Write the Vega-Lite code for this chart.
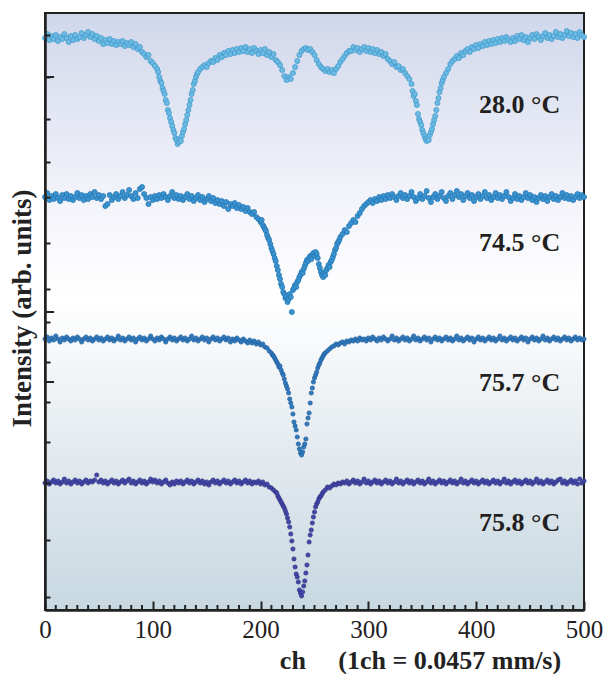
{
"$schema":"https://vega.github.io/schema/vega-lite/v6.json",
"width":539,"height":597,
"autosize":{"type":"none"},
"padding":{"left":45,"top":13,"right":26,"bottom":64},
"background":"white",
"config":{"view":{"stroke":null}},
"datasets":{
"a":[{"x":0,"y":572},{"x":2,"y":576},{"x":4,"y":570},{"x":6,"y":574},{"x":8,"y":571},{"x":10,"y":575},{"x":12,"y":569},{"x":14,"y":573},{"x":16,"y":571},{"x":18,"y":576},{"x":20,"y":572},{"x":22,"y":568},{"x":24,"y":574},{"x":26,"y":570},{"x":28,"y":575},{"x":30,"y":571},{"x":32,"y":573},{"x":34,"y":577},{"x":36,"y":572},{"x":38,"y":575},{"x":40,"y":578},{"x":42,"y":573},{"x":44,"y":576},{"x":46,"y":571},{"x":48,"y":574},{"x":50,"y":569},{"x":52,"y":572},{"x":54,"y":566},{"x":56,"y":570},{"x":58,"y":567},{"x":60,"y":571},{"x":62,"y":566},{"x":64,"y":569},{"x":66,"y":565},{"x":68,"y":568},{"x":70,"y":566},{"x":72,"y":569},{"x":74,"y":564},{"x":76,"y":567},{"x":78,"y":565},{"x":80,"y":568},{"x":82,"y":563},{"x":84,"y":566},{"x":86,"y":561},{"x":88,"y":563},{"x":90,"y":558},{"x":92,"y":556},{"x":94,"y":553},{"x":96,"y":555},{"x":98,"y":549},{"x":100,"y":547},{"x":102,"y":544},{"x":104,"y":541},{"x":105,"y":538},{"x":106,"y":533},{"x":107,"y":529},{"x":108,"y":527},{"x":109,"y":522},{"x":110,"y":519},{"x":111,"y":516},{"x":112,"y":510},{"x":113,"y":507},{"x":114,"y":500},{"x":115,"y":497},{"x":116,"y":492},{"x":117,"y":488},{"x":118,"y":484},{"x":119,"y":480},{"x":120,"y":477},{"x":121,"y":472},{"x":122,"y":470},{"x":123,"y":466},{"x":124,"y":468},{"x":125,"y":471},{"x":126,"y":469},{"x":127,"y":474},{"x":128,"y":478},{"x":129,"y":481},{"x":130,"y":486},{"x":131,"y":490},{"x":132,"y":495},{"x":133,"y":500},{"x":134,"y":505},{"x":135,"y":510},{"x":136,"y":516},{"x":137,"y":520},{"x":138,"y":526},{"x":139,"y":529},{"x":140,"y":533},{"x":141,"y":536},{"x":142,"y":538},{"x":144,"y":541},{"x":146,"y":543},{"x":148,"y":545},{"x":150,"y":543},{"x":152,"y":547},{"x":154,"y":549},{"x":156,"y":548},{"x":158,"y":552},{"x":160,"y":550},{"x":162,"y":555},{"x":164,"y":553},{"x":166,"y":557},{"x":168,"y":555},{"x":170,"y":559},{"x":172,"y":556},{"x":174,"y":560},{"x":176,"y":557},{"x":178,"y":561},{"x":180,"y":558},{"x":182,"y":562},{"x":184,"y":559},{"x":186,"y":563},{"x":188,"y":558},{"x":190,"y":561},{"x":192,"y":557},{"x":194,"y":562},{"x":196,"y":559},{"x":198,"y":556},{"x":200,"y":560},{"x":202,"y":557},{"x":204,"y":561},{"x":206,"y":555},{"x":208,"y":558},{"x":210,"y":553},{"x":212,"y":556},{"x":214,"y":550},{"x":216,"y":548},{"x":218,"y":545},{"x":220,"y":540},{"x":222,"y":534},{"x":224,"y":530},{"x":226,"y":533},{"x":228,"y":531},{"x":230,"y":537},{"x":232,"y":543},{"x":234,"y":549},{"x":236,"y":555},{"x":238,"y":559},{"x":240,"y":561},{"x":242,"y":562},{"x":244,"y":560},{"x":246,"y":561},{"x":248,"y":558},{"x":250,"y":555},{"x":252,"y":550},{"x":254,"y":546},{"x":256,"y":543},{"x":258,"y":541},{"x":260,"y":539},{"x":262,"y":541},{"x":264,"y":538},{"x":266,"y":540},{"x":268,"y":537},{"x":270,"y":541},{"x":272,"y":544},{"x":274,"y":548},{"x":276,"y":551},{"x":278,"y":554},{"x":280,"y":557},{"x":282,"y":559},{"x":284,"y":559},{"x":286,"y":563},{"x":288,"y":560},{"x":290,"y":562},{"x":292,"y":558},{"x":294,"y":561},{"x":296,"y":563},{"x":298,"y":559},{"x":300,"y":562},{"x":302,"y":558},{"x":304,"y":561},{"x":306,"y":557},{"x":308,"y":560},{"x":310,"y":556},{"x":312,"y":558},{"x":314,"y":554},{"x":316,"y":556},{"x":318,"y":551},{"x":320,"y":549},{"x":322,"y":546},{"x":324,"y":548},{"x":326,"y":543},{"x":328,"y":544},{"x":330,"y":540},{"x":332,"y":541},{"x":334,"y":537},{"x":336,"y":534},{"x":338,"y":531},{"x":340,"y":526},{"x":341,"y":519},{"x":342,"y":514},{"x":343,"y":516},{"x":344,"y":509},{"x":345,"y":505},{"x":346,"y":496},{"x":347,"y":491},{"x":348,"y":488},{"x":349,"y":485},{"x":350,"y":480},{"x":351,"y":477},{"x":352,"y":474},{"x":353,"y":471},{"x":354,"y":469},{"x":355,"y":472},{"x":356,"y":470},{"x":357,"y":475},{"x":358,"y":478},{"x":359,"y":481},{"x":360,"y":486},{"x":361,"y":490},{"x":362,"y":494},{"x":363,"y":500},{"x":364,"y":507},{"x":365,"y":512},{"x":366,"y":518},{"x":367,"y":522},{"x":368,"y":527},{"x":369,"y":530},{"x":370,"y":533},{"x":372,"y":537},{"x":374,"y":541},{"x":376,"y":546},{"x":378,"y":549},{"x":380,"y":551},{"x":382,"y":554},{"x":384,"y":552},{"x":386,"y":557},{"x":388,"y":555},{"x":390,"y":559},{"x":392,"y":561},{"x":394,"y":558},{"x":396,"y":563},{"x":398,"y":561},{"x":400,"y":565},{"x":402,"y":562},{"x":404,"y":566},{"x":406,"y":564},{"x":408,"y":568},{"x":410,"y":565},{"x":412,"y":569},{"x":414,"y":566},{"x":416,"y":570},{"x":418,"y":567},{"x":420,"y":571},{"x":422,"y":568},{"x":424,"y":572},{"x":426,"y":569},{"x":428,"y":573},{"x":430,"y":570},{"x":432,"y":568},{"x":434,"y":572},{"x":436,"y":569},{"x":438,"y":574},{"x":440,"y":571},{"x":442,"y":575},{"x":444,"y":570},{"x":446,"y":573},{"x":448,"y":568},{"x":450,"y":572},{"x":452,"y":575},{"x":454,"y":571},{"x":456,"y":576},{"x":458,"y":573},{"x":460,"y":570},{"x":462,"y":574},{"x":464,"y":577},{"x":466,"y":572},{"x":468,"y":575},{"x":470,"y":571},{"x":472,"y":574},{"x":474,"y":578},{"x":476,"y":573},{"x":478,"y":576},{"x":480,"y":572},{"x":482,"y":575},{"x":484,"y":579},{"x":486,"y":574},{"x":488,"y":577},{"x":490,"y":573},{"x":492,"y":576},{"x":494,"y":572},{"x":496,"y":578},{"x":498,"y":575},{"x":500,"y":573}],
"b":[{"x":0,"y":413},{"x":2,"y":417},{"x":4,"y":410},{"x":6,"y":414},{"x":8,"y":411},{"x":10,"y":416},{"x":12,"y":412},{"x":14,"y":409},{"x":16,"y":415},{"x":18,"y":412},{"x":20,"y":416},{"x":22,"y":411},{"x":24,"y":414},{"x":26,"y":410},{"x":28,"y":413},{"x":30,"y":417},{"x":32,"y":412},{"x":34,"y":415},{"x":36,"y":410},{"x":38,"y":414},{"x":40,"y":411},{"x":42,"y":416},{"x":44,"y":413},{"x":46,"y":418},{"x":48,"y":412},{"x":50,"y":415},{"x":52,"y":411},{"x":54,"y":414},{"x":56,"y":404},{"x":58,"y":406},{"x":60,"y":415},{"x":62,"y":410},{"x":64,"y":413},{"x":66,"y":416},{"x":68,"y":411},{"x":70,"y":414},{"x":72,"y":418},{"x":74,"y":412},{"x":76,"y":415},{"x":78,"y":420},{"x":80,"y":414},{"x":82,"y":411},{"x":84,"y":417},{"x":86,"y":412},{"x":88,"y":421},{"x":90,"y":423},{"x":92,"y":416},{"x":94,"y":412},{"x":96,"y":406},{"x":98,"y":413},{"x":100,"y":410},{"x":102,"y":414},{"x":104,"y":411},{"x":106,"y":415},{"x":108,"y":412},{"x":110,"y":416},{"x":112,"y":413},{"x":114,"y":410},{"x":116,"y":414},{"x":118,"y":418},{"x":120,"y":412},{"x":122,"y":415},{"x":124,"y":411},{"x":126,"y":414},{"x":128,"y":410},{"x":130,"y":413},{"x":132,"y":416},{"x":134,"y":411},{"x":136,"y":414},{"x":138,"y":409},{"x":140,"y":412},{"x":142,"y":415},{"x":144,"y":410},{"x":146,"y":413},{"x":148,"y":408},{"x":150,"y":411},{"x":152,"y":414},{"x":154,"y":409},{"x":156,"y":412},{"x":158,"y":407},{"x":160,"y":410},{"x":162,"y":406},{"x":164,"y":409},{"x":166,"y":404},{"x":168,"y":408},{"x":170,"y":401},{"x":172,"y":406},{"x":174,"y":404},{"x":176,"y":407},{"x":178,"y":402},{"x":180,"y":405},{"x":182,"y":401},{"x":184,"y":403},{"x":186,"y":399},{"x":188,"y":402},{"x":190,"y":398},{"x":192,"y":396},{"x":194,"y":398},{"x":196,"y":393},{"x":198,"y":391},{"x":200,"y":388},{"x":201,"y":390},{"x":202,"y":385},{"x":203,"y":383},{"x":204,"y":381},{"x":205,"y":379},{"x":206,"y":375},{"x":207,"y":372},{"x":208,"y":370},{"x":209,"y":366},{"x":210,"y":362},{"x":211,"y":359},{"x":212,"y":356},{"x":213,"y":352},{"x":214,"y":349},{"x":215,"y":344},{"x":216,"y":340},{"x":217,"y":335},{"x":218,"y":331},{"x":219,"y":326},{"x":220,"y":323},{"x":221,"y":318},{"x":222,"y":316},{"x":223,"y":312},{"x":224,"y":314},{"x":225,"y":308},{"x":226,"y":311},{"x":227,"y":316},{"x":228,"y":313},{"x":229,"y":298},{"x":230,"y":320},{"x":231,"y":322},{"x":232,"y":325},{"x":233,"y":323},{"x":234,"y":328},{"x":235,"y":330},{"x":236,"y":333},{"x":237,"y":335},{"x":238,"y":338},{"x":239,"y":337},{"x":240,"y":341},{"x":241,"y":344},{"x":242,"y":347},{"x":243,"y":350},{"x":244,"y":349},{"x":245,"y":352},{"x":246,"y":354},{"x":247,"y":351},{"x":248,"y":355},{"x":249,"y":357},{"x":250,"y":354},{"x":251,"y":358},{"x":252,"y":356},{"x":253,"y":352},{"x":254,"y":346},{"x":255,"y":342},{"x":256,"y":338},{"x":257,"y":335},{"x":258,"y":333},{"x":259,"y":337},{"x":260,"y":335},{"x":261,"y":340},{"x":262,"y":342},{"x":263,"y":345},{"x":264,"y":343},{"x":265,"y":348},{"x":266,"y":350},{"x":267,"y":353},{"x":268,"y":356},{"x":269,"y":360},{"x":270,"y":362},{"x":271,"y":366},{"x":272,"y":368},{"x":273,"y":370},{"x":274,"y":373},{"x":276,"y":376},{"x":278,"y":380},{"x":280,"y":378},{"x":282,"y":384},{"x":284,"y":387},{"x":286,"y":390},{"x":288,"y":388},{"x":290,"y":394},{"x":292,"y":397},{"x":294,"y":401},{"x":296,"y":404},{"x":298,"y":406},{"x":300,"y":408},{"x":302,"y":410},{"x":304,"y":407},{"x":306,"y":411},{"x":308,"y":409},{"x":310,"y":413},{"x":312,"y":410},{"x":314,"y":414},{"x":316,"y":411},{"x":318,"y":415},{"x":320,"y":412},{"x":322,"y":416},{"x":324,"y":413},{"x":326,"y":410},{"x":328,"y":414},{"x":330,"y":417},{"x":332,"y":412},{"x":334,"y":415},{"x":336,"y":411},{"x":338,"y":414},{"x":340,"y":418},{"x":342,"y":413},{"x":344,"y":409},{"x":346,"y":412},{"x":348,"y":416},{"x":350,"y":411},{"x":352,"y":414},{"x":354,"y":419},{"x":356,"y":412},{"x":358,"y":408},{"x":360,"y":413},{"x":362,"y":416},{"x":364,"y":411},{"x":366,"y":414},{"x":368,"y":418},{"x":370,"y":412},{"x":372,"y":409},{"x":374,"y":414},{"x":376,"y":417},{"x":378,"y":411},{"x":380,"y":415},{"x":382,"y":419},{"x":384,"y":413},{"x":386,"y":416},{"x":388,"y":410},{"x":390,"y":414},{"x":392,"y":417},{"x":394,"y":412},{"x":396,"y":415},{"x":398,"y":409},{"x":400,"y":413},{"x":402,"y":416},{"x":404,"y":411},{"x":406,"y":414},{"x":408,"y":418},{"x":410,"y":412},{"x":412,"y":415},{"x":414,"y":410},{"x":416,"y":413},{"x":418,"y":417},{"x":420,"y":412},{"x":422,"y":415},{"x":424,"y":411},{"x":426,"y":414},{"x":428,"y":418},{"x":430,"y":413},{"x":432,"y":409},{"x":434,"y":412},{"x":436,"y":416},{"x":438,"y":411},{"x":440,"y":414},{"x":442,"y":410},{"x":444,"y":413},{"x":446,"y":417},{"x":448,"y":412},{"x":450,"y":415},{"x":452,"y":410},{"x":454,"y":413},{"x":456,"y":408},{"x":458,"y":412},{"x":460,"y":415},{"x":462,"y":411},{"x":464,"y":414},{"x":466,"y":409},{"x":468,"y":413},{"x":470,"y":416},{"x":472,"y":411},{"x":474,"y":414},{"x":476,"y":410},{"x":478,"y":413},{"x":480,"y":417},{"x":482,"y":412},{"x":484,"y":415},{"x":486,"y":411},{"x":488,"y":414},{"x":490,"y":410},{"x":492,"y":413},{"x":494,"y":416},{"x":496,"y":412},{"x":498,"y":415},{"x":500,"y":413}],
"c":[{"x":0,"y":271},{"x":2,"y":273},{"x":4,"y":269},{"x":6,"y":272},{"x":8,"y":270},{"x":10,"y":274},{"x":12,"y":271},{"x":14,"y":268},{"x":16,"y":272},{"x":18,"y":270},{"x":20,"y":273},{"x":22,"y":271},{"x":24,"y":269},{"x":26,"y":272},{"x":28,"y":270},{"x":30,"y":273},{"x":32,"y":271},{"x":34,"y":268},{"x":36,"y":271},{"x":38,"y":273},{"x":40,"y":270},{"x":42,"y":272},{"x":44,"y":269},{"x":46,"y":271},{"x":48,"y":273},{"x":50,"y":270},{"x":52,"y":272},{"x":54,"y":269},{"x":56,"y":271},{"x":58,"y":273},{"x":60,"y":270},{"x":62,"y":272},{"x":64,"y":269},{"x":66,"y":271},{"x":68,"y":274},{"x":70,"y":270},{"x":72,"y":272},{"x":74,"y":269},{"x":76,"y":271},{"x":78,"y":273},{"x":80,"y":270},{"x":82,"y":272},{"x":84,"y":268},{"x":86,"y":271},{"x":88,"y":273},{"x":90,"y":270},{"x":92,"y":272},{"x":94,"y":269},{"x":96,"y":271},{"x":98,"y":274},{"x":100,"y":271},{"x":102,"y":269},{"x":104,"y":272},{"x":106,"y":270},{"x":108,"y":273},{"x":110,"y":271},{"x":112,"y":268},{"x":114,"y":271},{"x":116,"y":273},{"x":118,"y":270},{"x":120,"y":272},{"x":122,"y":269},{"x":124,"y":271},{"x":126,"y":273},{"x":128,"y":270},{"x":130,"y":272},{"x":132,"y":269},{"x":134,"y":271},{"x":136,"y":274},{"x":138,"y":270},{"x":140,"y":272},{"x":142,"y":269},{"x":144,"y":271},{"x":146,"y":273},{"x":148,"y":270},{"x":150,"y":272},{"x":152,"y":268},{"x":154,"y":271},{"x":156,"y":273},{"x":158,"y":270},{"x":160,"y":272},{"x":162,"y":269},{"x":164,"y":271},{"x":166,"y":273},{"x":168,"y":270},{"x":170,"y":272},{"x":172,"y":268},{"x":174,"y":271},{"x":176,"y":269},{"x":178,"y":272},{"x":180,"y":270},{"x":182,"y":268},{"x":184,"y":271},{"x":186,"y":269},{"x":188,"y":267},{"x":190,"y":270},{"x":192,"y":267},{"x":194,"y":269},{"x":196,"y":266},{"x":198,"y":268},{"x":200,"y":265},{"x":202,"y":266},{"x":204,"y":263},{"x":206,"y":262},{"x":208,"y":259},{"x":210,"y":257},{"x":211,"y":255},{"x":212,"y":254},{"x":213,"y":252},{"x":214,"y":250},{"x":215,"y":248},{"x":216,"y":246},{"x":217,"y":243},{"x":218,"y":244},{"x":219,"y":240},{"x":220,"y":237},{"x":221,"y":235},{"x":222,"y":231},{"x":223,"y":227},{"x":224,"y":224},{"x":225,"y":221},{"x":226,"y":217},{"x":227,"y":211},{"x":228,"y":207},{"x":229,"y":203},{"x":230,"y":196},{"x":231,"y":188},{"x":232,"y":184},{"x":233,"y":180},{"x":234,"y":173},{"x":235,"y":166},{"x":236,"y":161},{"x":237,"y":157},{"x":238,"y":155},{"x":239,"y":158},{"x":240,"y":163},{"x":241,"y":166},{"x":242,"y":171},{"x":243,"y":186},{"x":244,"y":192},{"x":245,"y":197},{"x":246,"y":207},{"x":247,"y":217},{"x":248,"y":222},{"x":249,"y":228},{"x":250,"y":232},{"x":251,"y":235},{"x":252,"y":238},{"x":253,"y":242},{"x":254,"y":245},{"x":255,"y":247},{"x":256,"y":250},{"x":257,"y":252},{"x":258,"y":254},{"x":259,"y":256},{"x":260,"y":257},{"x":262,"y":259},{"x":264,"y":261},{"x":266,"y":263},{"x":268,"y":264},{"x":270,"y":266},{"x":272,"y":265},{"x":274,"y":267},{"x":276,"y":268},{"x":278,"y":266},{"x":280,"y":269},{"x":282,"y":268},{"x":284,"y":270},{"x":286,"y":269},{"x":288,"y":271},{"x":290,"y":269},{"x":292,"y":272},{"x":294,"y":270},{"x":296,"y":271},{"x":298,"y":269},{"x":300,"y":272},{"x":302,"y":270},{"x":304,"y":273},{"x":306,"y":271},{"x":308,"y":269},{"x":310,"y":272},{"x":312,"y":270},{"x":314,"y":273},{"x":316,"y":271},{"x":318,"y":269},{"x":320,"y":271},{"x":322,"y":274},{"x":324,"y":270},{"x":326,"y":272},{"x":328,"y":269},{"x":330,"y":271},{"x":332,"y":273},{"x":334,"y":270},{"x":336,"y":272},{"x":338,"y":269},{"x":340,"y":271},{"x":342,"y":274},{"x":344,"y":270},{"x":346,"y":272},{"x":348,"y":269},{"x":350,"y":271},{"x":352,"y":273},{"x":354,"y":270},{"x":356,"y":272},{"x":358,"y":268},{"x":360,"y":271},{"x":362,"y":273},{"x":364,"y":270},{"x":366,"y":272},{"x":368,"y":269},{"x":370,"y":271},{"x":372,"y":273},{"x":374,"y":270},{"x":376,"y":272},{"x":378,"y":269},{"x":380,"y":271},{"x":382,"y":274},{"x":384,"y":270},{"x":386,"y":272},{"x":388,"y":269},{"x":390,"y":271},{"x":392,"y":273},{"x":394,"y":270},{"x":396,"y":272},{"x":398,"y":268},{"x":400,"y":271},{"x":402,"y":273},{"x":404,"y":270},{"x":406,"y":272},{"x":408,"y":269},{"x":410,"y":271},{"x":412,"y":273},{"x":414,"y":270},{"x":416,"y":272},{"x":418,"y":269},{"x":420,"y":271},{"x":422,"y":274},{"x":424,"y":270},{"x":426,"y":272},{"x":428,"y":269},{"x":430,"y":271},{"x":432,"y":273},{"x":434,"y":270},{"x":436,"y":272},{"x":438,"y":269},{"x":440,"y":271},{"x":442,"y":273},{"x":444,"y":270},{"x":446,"y":272},{"x":448,"y":268},{"x":450,"y":271},{"x":452,"y":273},{"x":454,"y":270},{"x":456,"y":272},{"x":458,"y":269},{"x":460,"y":271},{"x":462,"y":274},{"x":464,"y":270},{"x":466,"y":272},{"x":468,"y":269},{"x":470,"y":271},{"x":472,"y":273},{"x":474,"y":270},{"x":476,"y":272},{"x":478,"y":269},{"x":480,"y":271},{"x":482,"y":273},{"x":484,"y":270},{"x":486,"y":272},{"x":488,"y":269},{"x":490,"y":271},{"x":492,"y":273},{"x":494,"y":270},{"x":496,"y":272},{"x":498,"y":270},{"x":500,"y":271}],
"d":[{"x":0,"y":127},{"x":2,"y":129},{"x":4,"y":126},{"x":6,"y":128},{"x":8,"y":130},{"x":10,"y":127},{"x":12,"y":129},{"x":14,"y":126},{"x":16,"y":128},{"x":18,"y":131},{"x":20,"y":127},{"x":22,"y":129},{"x":24,"y":126},{"x":26,"y":128},{"x":28,"y":130},{"x":30,"y":127},{"x":32,"y":129},{"x":34,"y":126},{"x":36,"y":128},{"x":38,"y":130},{"x":40,"y":127},{"x":42,"y":129},{"x":44,"y":128},{"x":46,"y":130},{"x":48,"y":135},{"x":50,"y":128},{"x":52,"y":130},{"x":54,"y":127},{"x":56,"y":129},{"x":58,"y":126},{"x":60,"y":128},{"x":62,"y":130},{"x":64,"y":127},{"x":66,"y":129},{"x":68,"y":126},{"x":70,"y":128},{"x":72,"y":130},{"x":74,"y":127},{"x":76,"y":129},{"x":78,"y":131},{"x":80,"y":127},{"x":82,"y":129},{"x":84,"y":126},{"x":86,"y":128},{"x":88,"y":130},{"x":90,"y":127},{"x":92,"y":129},{"x":94,"y":126},{"x":96,"y":128},{"x":98,"y":131},{"x":100,"y":128},{"x":102,"y":130},{"x":104,"y":127},{"x":106,"y":129},{"x":108,"y":126},{"x":110,"y":128},{"x":112,"y":130},{"x":114,"y":127},{"x":116,"y":125},{"x":118,"y":128},{"x":120,"y":126},{"x":122,"y":129},{"x":124,"y":127},{"x":126,"y":129},{"x":128,"y":126},{"x":130,"y":128},{"x":132,"y":130},{"x":134,"y":127},{"x":136,"y":129},{"x":138,"y":126},{"x":140,"y":128},{"x":142,"y":130},{"x":144,"y":127},{"x":146,"y":129},{"x":148,"y":126},{"x":150,"y":128},{"x":152,"y":125},{"x":154,"y":128},{"x":156,"y":130},{"x":158,"y":127},{"x":160,"y":129},{"x":162,"y":126},{"x":164,"y":128},{"x":166,"y":130},{"x":168,"y":127},{"x":170,"y":129},{"x":172,"y":126},{"x":174,"y":128},{"x":176,"y":130},{"x":178,"y":127},{"x":180,"y":129},{"x":182,"y":126},{"x":184,"y":128},{"x":186,"y":130},{"x":188,"y":127},{"x":190,"y":129},{"x":192,"y":126},{"x":194,"y":128},{"x":196,"y":127},{"x":198,"y":129},{"x":200,"y":126},{"x":202,"y":128},{"x":204,"y":125},{"x":206,"y":126},{"x":208,"y":123},{"x":210,"y":122},{"x":212,"y":120},{"x":214,"y":118},{"x":215,"y":117},{"x":216,"y":114},{"x":217,"y":112},{"x":218,"y":110},{"x":219,"y":108},{"x":220,"y":106},{"x":221,"y":104},{"x":222,"y":102},{"x":223,"y":99},{"x":224,"y":96},{"x":225,"y":92},{"x":226,"y":88},{"x":227,"y":83},{"x":228,"y":76},{"x":229,"y":69},{"x":230,"y":61},{"x":231,"y":51},{"x":232,"y":43},{"x":233,"y":36},{"x":234,"y":33},{"x":235,"y":28},{"x":236,"y":20},{"x":237,"y":17},{"x":238,"y":14},{"x":239,"y":18},{"x":240,"y":24},{"x":241,"y":29},{"x":242,"y":37},{"x":243,"y":45},{"x":244,"y":55},{"x":245,"y":68},{"x":246,"y":75},{"x":247,"y":80},{"x":248,"y":87},{"x":249,"y":93},{"x":250,"y":98},{"x":251,"y":103},{"x":252,"y":106},{"x":253,"y":108},{"x":254,"y":111},{"x":255,"y":113},{"x":256,"y":114},{"x":257,"y":116},{"x":258,"y":118},{"x":260,"y":120},{"x":262,"y":123},{"x":264,"y":122},{"x":266,"y":124},{"x":268,"y":126},{"x":270,"y":125},{"x":272,"y":127},{"x":274,"y":126},{"x":276,"y":128},{"x":278,"y":127},{"x":280,"y":129},{"x":282,"y":126},{"x":284,"y":128},{"x":286,"y":130},{"x":288,"y":127},{"x":290,"y":129},{"x":292,"y":126},{"x":294,"y":128},{"x":296,"y":131},{"x":298,"y":127},{"x":300,"y":129},{"x":302,"y":126},{"x":304,"y":128},{"x":306,"y":130},{"x":308,"y":127},{"x":310,"y":129},{"x":312,"y":126},{"x":314,"y":128},{"x":316,"y":130},{"x":318,"y":127},{"x":320,"y":129},{"x":322,"y":126},{"x":324,"y":128},{"x":326,"y":131},{"x":328,"y":127},{"x":330,"y":129},{"x":332,"y":126},{"x":334,"y":128},{"x":336,"y":130},{"x":338,"y":127},{"x":340,"y":129},{"x":342,"y":126},{"x":344,"y":128},{"x":346,"y":130},{"x":348,"y":127},{"x":350,"y":129},{"x":352,"y":126},{"x":354,"y":128},{"x":356,"y":131},{"x":358,"y":127},{"x":360,"y":129},{"x":362,"y":126},{"x":364,"y":128},{"x":366,"y":130},{"x":368,"y":127},{"x":370,"y":129},{"x":372,"y":126},{"x":374,"y":128},{"x":376,"y":130},{"x":378,"y":127},{"x":380,"y":129},{"x":382,"y":126},{"x":384,"y":128},{"x":386,"y":131},{"x":388,"y":127},{"x":390,"y":129},{"x":392,"y":126},{"x":394,"y":128},{"x":396,"y":130},{"x":398,"y":127},{"x":400,"y":129},{"x":402,"y":126},{"x":404,"y":128},{"x":406,"y":130},{"x":408,"y":127},{"x":410,"y":129},{"x":412,"y":126},{"x":414,"y":128},{"x":416,"y":130},{"x":418,"y":127},{"x":420,"y":129},{"x":422,"y":126},{"x":424,"y":128},{"x":426,"y":131},{"x":428,"y":127},{"x":430,"y":129},{"x":432,"y":126},{"x":434,"y":128},{"x":436,"y":130},{"x":438,"y":127},{"x":440,"y":129},{"x":442,"y":126},{"x":444,"y":128},{"x":446,"y":130},{"x":448,"y":127},{"x":450,"y":129},{"x":452,"y":126},{"x":454,"y":128},{"x":456,"y":131},{"x":458,"y":127},{"x":460,"y":129},{"x":462,"y":126},{"x":464,"y":128},{"x":466,"y":130},{"x":468,"y":127},{"x":470,"y":129},{"x":472,"y":126},{"x":474,"y":128},{"x":476,"y":130},{"x":478,"y":131},{"x":480,"y":127},{"x":482,"y":129},{"x":484,"y":126},{"x":486,"y":128},{"x":488,"y":130},{"x":490,"y":127},{"x":492,"y":129},{"x":494,"y":126},{"x":496,"y":131},{"x":498,"y":127},{"x":500,"y":129}],
"labels":[{"x":478,"y":505,"label":"28.0 °C"},{"x":478,"y":367,"label":"74.5 °C"},{"x":478,"y":227,"label":"75.7 °C"},{"x":478,"y":87,"label":"75.8 °C"}],
"xminor":[{"t":10},{"t":20},{"t":30},{"t":40},{"t":50},{"t":60},{"t":70},{"t":80},{"t":90},{"t":110},{"t":120},{"t":130},{"t":140},{"t":150},{"t":160},{"t":170},{"t":180},{"t":190},{"t":210},{"t":220},{"t":230},{"t":240},{"t":250},{"t":260},{"t":270},{"t":280},{"t":290},{"t":310},{"t":320},{"t":330},{"t":340},{"t":350},{"t":360},{"t":370},{"t":380},{"t":390},{"t":410},{"t":420},{"t":430},{"t":440},{"t":450},{"t":460},{"t":470},{"t":480},{"t":490}],
"ymajor":[{"t":533},{"t":298},{"t":228}]
},
"layer":[
{"data":{"values":[{}]},
 "mark":{"type":"rect","stroke":"#222222","strokeWidth":2,
  "fill":{"gradient":"linear","x1":0,"y1":0,"x2":0,"y2":1,"stops":[{"offset":0,"color":"#d0d7eb"},{"offset":0.3,"color":"#f2f3fa"},{"offset":0.48,"color":"#ffffff"},{"offset":0.75,"color":"#e2e9ee"},{"offset":1,"color":"#c7d8e1"}]}},
 "encoding":{"x":{"datum":0,"type":"quantitative","scale":{"domain":[0,500],"nice":false,"zero":false}},"x2":{"datum":500},"y":{"datum":0,"type":"quantitative","scale":{"domain":[0,597],"nice":false,"zero":false}},"y2":{"datum":597}}},
{"data":{"name":"a"},"mark":{"type":"circle","size":26,"fill":"#6bbbe3","stroke":"#3d95c8","strokeWidth":0.7,"opacity":1},
 "encoding":{
 "x":{"field":"x","type":"quantitative","scale":{"domain":[0,500],"nice":false,"zero":false},
 "axis":{"values":[0,100,200,300,400,500],"labelFlush":false,"labelOverlap":false,
 "tickSize":-9,"tickWidth":2,"tickColor":"#222222","domainColor":"#222222","domainWidth":2.5,"grid":false,"zindex":1,
 "labelFont":"Liberation Serif","labelFontSize":25,"labelColor":"#222222","labelPadding":16,
 "title":"ch\u00a0\u00a0\u00a0\u00a0\u00a0(1ch = 0.0457 mm/s)","titleFont":"Liberation Serif","titleFontSize":26,"titleFontWeight":"bold","titleColor":"#222222",
 "titleX":375,"titleY":50,"titleAlign":"center","titleBaseline":"middle"}},
 "y":{"field":"y","type":"quantitative","scale":{"domain":[0,597],"nice":false,"zero":false},
 "axis":{"values":[575,554,533,512,491,469,448,436,413,390,367,344,321,298,288,268,248,228,208,188,168,148,127,98,70,42,13],
 "labels":false,"grid":false,"zindex":1,
 "tickSize":-5,"tickWidth":2,"tickColor":"#222222","domainColor":"#222222","domainWidth":2.5,
 "title":"Intensity (arb. units)","titleFont":"Liberation Serif","titleFontSize":27,"titleFontWeight":"bold","titleColor":"#222222",
 "titleX":-23,"titleY":295,"titleAngle":-90,"titleAlign":"center","titleBaseline":"middle"}}}},
{"data":{"name":"xminor"},"mark":{"type":"rule","color":"#222222","strokeWidth":2},
 "encoding":{"x":{"field":"t","type":"quantitative","scale":{"domain":[0,500],"nice":false,"zero":false}},"y":{"datum":0,"type":"quantitative","scale":{"domain":[0,597],"nice":false,"zero":false}},"y2":{"datum":5}}},
{"data":{"name":"ymajor"},"mark":{"type":"rule","color":"#222222","strokeWidth":2},
 "encoding":{"y":{"field":"t","type":"quantitative","scale":{"domain":[0,597],"nice":false,"zero":false}},"x":{"datum":0,"type":"quantitative","scale":{"domain":[0,500],"nice":false,"zero":false}},"x2":{"datum":8.4}}},
{"data":{"name":"b"},"mark":{"type":"circle","size":26,"fill":"#3a93cf","stroke":"#1f73b0","strokeWidth":0.7,"opacity":1},
 "encoding":{"x":{"field":"x","type":"quantitative","scale":{"domain":[0,500],"nice":false,"zero":false}},"y":{"field":"y","type":"quantitative","scale":{"domain":[0,597],"nice":false,"zero":false}}}},
{"data":{"name":"c"},"mark":{"type":"circle","size":18,"fill":"#2f79bd","stroke":"#1d5c9c","strokeWidth":0.7,"opacity":1},
 "encoding":{"x":{"field":"x","type":"quantitative","scale":{"domain":[0,500],"nice":false,"zero":false}},"y":{"field":"y","type":"quantitative","scale":{"domain":[0,597],"nice":false,"zero":false}}}},
{"data":{"name":"d"},"mark":{"type":"circle","size":18,"fill":"#4447a6","stroke":"#2b2f85","strokeWidth":0.7,"opacity":1},
 "encoding":{"x":{"field":"x","type":"quantitative","scale":{"domain":[0,500],"nice":false,"zero":false}},"y":{"field":"y","type":"quantitative","scale":{"domain":[0,597],"nice":false,"zero":false}}}},
{"data":{"name":"labels"},"mark":{"type":"text","align":"right","baseline":"middle","font":"Liberation Serif","fontSize":26,"fontWeight":"bold","color":"#231f20"},
 "encoding":{"x":{"field":"x","type":"quantitative","scale":{"domain":[0,500],"nice":false,"zero":false}},"y":{"field":"y","type":"quantitative","scale":{"domain":[0,597],"nice":false,"zero":false}},"text":{"field":"label"}}}
]
}
